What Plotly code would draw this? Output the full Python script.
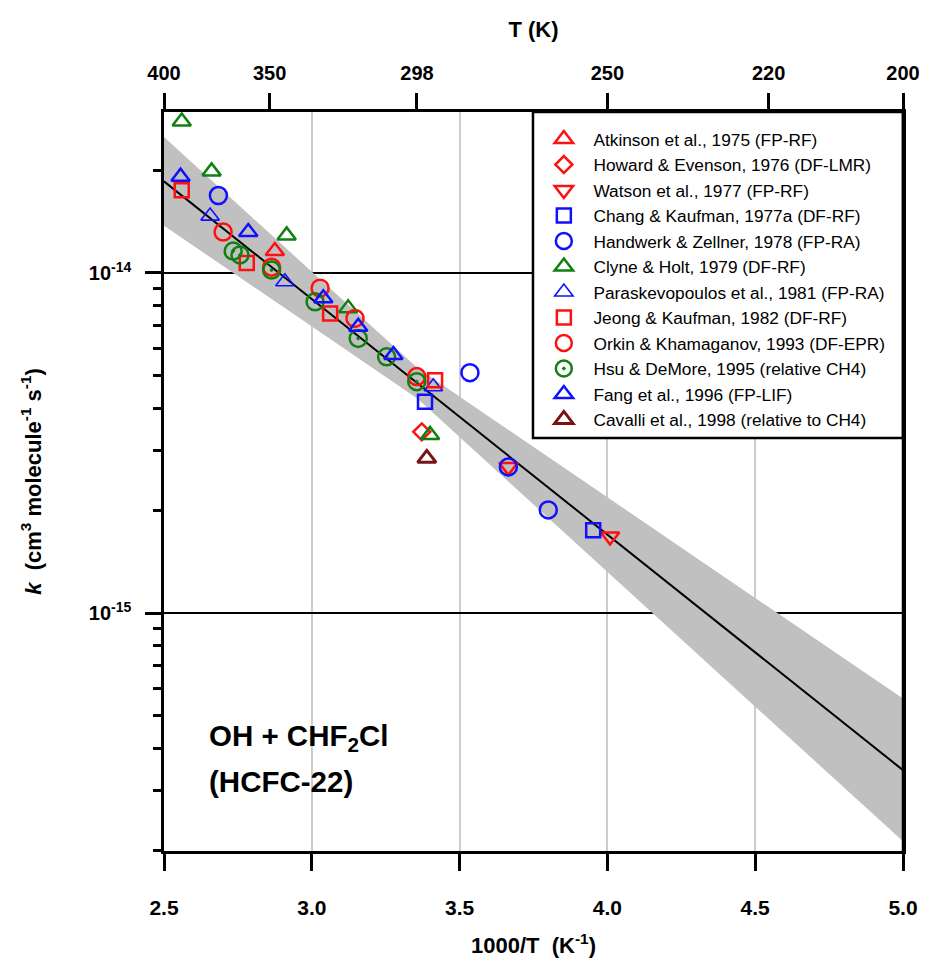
import plotly.graph_objects as go

# ---------------- data ----------------
# x = 1000/T (K^-1), k in cm^3 molecule^-1 s^-1
atkinson_x = [2.875]
atkinson_k = [1.16e-14]

howard_x = [3.372]
howard_k = [3.41e-15]

watson_x = [3.665, 4.009]
watson_k = [2.69e-15, 1.68e-15]

chang_x = [3.383, 3.952]
chang_k = [4.18e-15, 1.75e-15]

handwerk_x = [2.684, 3.535, 3.665, 3.800]
handwerk_k = [1.69e-14, 5.09e-15, 2.69e-15, 2.01e-15]

clyne_x = [2.560, 2.661, 2.915, 3.123, 3.400]
clyne_k = [2.79e-14, 1.99e-14, 1.29e-14, 7.87e-15, 3.34e-15]

parask_x = [2.656, 2.909, 3.411]
parask_k = [1.47e-14, 9.42e-15, 4.63e-15]

jeong_x = [2.560, 2.780, 3.062, 3.417]
jeong_k = [1.75e-14, 1.07e-14, 7.60e-15, 4.84e-15]

orkin_x = [2.700, 2.864, 3.028, 3.146, 3.355]
orkin_k = [1.32e-14, 1.04e-14, 9.02e-15, 7.35e-15, 4.96e-15]

hsu_x = [2.734, 2.757, 2.864, 3.011, 3.157, 3.253, 3.355]
hsu_k = [1.16e-14, 1.13e-14, 1.02e-14, 8.23e-15, 6.42e-15, 5.67e-15, 4.79e-15]

fang_x = [2.556, 2.785, 3.039, 3.157, 3.276]
fang_k = [1.92e-14, 1.32e-14, 8.43e-15, 6.95e-15, 5.74e-15]

cavalli_x = [3.389]
cavalli_k = [2.85e-15]

# recommended fit line and its uncertainty band
fit_x = [2.5, 5.0]
fit_k = [1.86e-14, 3.45e-16]
band_x = [2.5, 3.356, 5.0]
band_upper = [2.51e-14, 5.27e-15, 5.60e-16]
band_lower = [1.378e-14, 4.28e-15, 2.13e-16]

# axis ticks
top_T = [400, 350, 298, 250, 220, 200]
top_labels = ["400", "350", "298", "250", "220", "200"]
bottom_ticks = [2.5, 3.0, 3.5, 4.0, 4.5, 5.0]
bottom_labels = ["2.5", "3.0", "3.5", "4.0", "4.5", "5.0"]
y_ticks = [1e-15, 1e-14]
y_labels = ["10<sup>-15</sup>", "10<sup>-14</sup>"]
y_minor = [m * 10.0 ** e for e in (-16, -15, -14) for m in range(2, 10)]

FONT = "Liberation Sans, Arial, sans-serif"
RED = "#ff1010"
BLUE = "#1010ff"
GREEN = "#108010"
BROWN = "#7a1414"

fig = go.Figure()

# uncertainty band
fig.add_trace(go.Scatter(x=band_x, y=band_lower, mode="lines", line=dict(width=0),
                         showlegend=False, hoverinfo="skip"))
fig.add_trace(go.Scatter(x=band_x, y=band_upper, mode="lines", line=dict(width=0),
                         fill="tonexty", fillcolor="rgb(192,192,192)",
                         showlegend=False, hoverinfo="skip"))
# fit line
fig.add_trace(go.Scatter(x=fit_x, y=fit_k, mode="lines", line=dict(color="black", width=2),
                         showlegend=False, hoverinfo="skip"))

series = [
    ("Atkinson et al., 1975 (FP-RF)", atkinson_x, atkinson_k, "triangle-up-open", RED, 16, 2.5),
    ("Howard & Evenson, 1976 (DF-LMR)", howard_x, howard_k, "diamond-open", RED, 13, 2.5),
    ("Watson et al., 1977 (FP-RF)", watson_x, watson_k, "triangle-down-open", RED, 16, 2.5),
    ("Chang & Kaufman, 1977a (DF-RF)", chang_x, chang_k, "square-open", BLUE, 14, 2.5),
    ("Handwerk & Zellner, 1978 (FP-RA)", handwerk_x, handwerk_k, "circle-open", BLUE, 17, 2.5),
    ("Clyne & Holt, 1979 (DF-RF)", clyne_x, clyne_k, "triangle-up-open", GREEN, 16, 2.5),
    ("Paraskevopoulos et al., 1981 (FP-RA)", parask_x, parask_k, "triangle-up-open", BLUE, 16, 1.6),
    ("Jeong & Kaufman, 1982 (DF-RF)", jeong_x, jeong_k, "square-open", RED, 14, 2.5),
    ("Orkin & Khamaganov, 1993 (DF-EPR)", orkin_x, orkin_k, "circle-open", RED, 17, 2.5),
    ("Hsu & DeMore, 1995 (relative CH4)", hsu_x, hsu_k, "circle-open-dot", GREEN, 17, 2.5),
    ("Fang et al., 1996 (FP-LIF)", fang_x, fang_k, "triangle-up-open", BLUE, 16, 2.5),
    ("Cavalli et al., 1998 (relative to CH4)", cavalli_x, cavalli_k, "triangle-up-open", BROWN, 16, 3),
]

for i, (name, xs, ks, sym, col, size, lw) in enumerate(series):
    fig.add_trace(go.Scatter(
        x=xs, y=ks, mode="markers", name="\u00a0\u00a0" + name,
        legendgroup=f"g{i}",
        marker=dict(symbol=sym, color=col, size=size, line=dict(color=col, width=lw)),
    ))

# helper trace so the top axis is drawn
fig.add_trace(go.Scatter(x=[2.5, 5.0], y=[1e-14, 1e-14], xaxis="x2", mode="markers",
                         marker=dict(opacity=0), showlegend=False, hoverinfo="skip"))

fig.update_layout(
    width=930, height=964,
    margin=dict(l=156, r=35, t=104, b=121),
    paper_bgcolor="white", plot_bgcolor="white",
    font=dict(family=FONT, color="black"),
    xaxis=dict(
        range=[2.5, 5.0], tickvals=bottom_ticks, ticktext=[f"<b>{t}</b>" for t in bottom_labels],
        ticks="outside", ticklen=17, tickwidth=2.5, tickcolor="black",
        tickfont=dict(size=21), ticklabelstandoff=19,
        showline=True, linecolor="black", linewidth=2.5, zeroline=False, mirror=False,
        showgrid=True, gridcolor="rgb(205,205,205)", gridwidth=1.5,
        title=dict(text="<b>1000/T  (K<sup>-1</sup>)</b>", font=dict(size=22), standoff=20),
    ),
    xaxis2=dict(
        overlaying="x", side="top", range=[2.5, 5.0], anchor="y",
        tickvals=[1000.0 / t for t in top_T], ticktext=[f"<b>{t}</b>" for t in top_labels],
        ticks="outside", ticklen=16, tickwidth=2.5, tickcolor="black",
        tickfont=dict(size=20), showgrid=False, ticklabelstandoff=5,
        showline=True, linecolor="black", linewidth=2.5, zeroline=False,
        title=dict(text="<b>T (K)</b>", font=dict(size=22), standoff=19),
    ),
    yaxis=dict(
        type="log", range=[-15.7, -13.5265],
        tickvals=y_ticks, ticktext=[f"<b>{t}</b>" for t in y_labels],
        ticks="outside", ticklen=16, tickwidth=2.5, tickcolor="black",
        tickfont=dict(size=20), ticklabelstandoff=10,
        showline=True, linecolor="black", linewidth=2.5, zeroline=False, mirror=True,
        showgrid=True, gridcolor="black", gridwidth=1.5,
        minor=dict(tickvals=y_minor, ticks="outside", ticklen=8, tickwidth=2.5,
                   tickcolor="black", showgrid=False),
        title=dict(text="<b><i>k</i>  (cm<sup>3</sup> molecule<sup>-1</sup> s<sup>-1</sup>)</b>",
                   font=dict(size=22), standoff=42),
    ),
    legend=dict(
        x=0.514, y=0.9874, xanchor="left", yanchor="top",
        bgcolor="rgba(0,0,0,0)", borderwidth=0,
        font=dict(size=17.3, family=FONT), tracegroupgap=0, indentation=0,
        itemclick=False, itemdoubleclick=False,
    ),
    showlegend=True,
    annotations=[
        dict(xref="paper", yref="paper", x=0.058, y=0.154, xanchor="left", yanchor="middle",
             showarrow=False, align="left",
             text="<b>OH + CHF<sub>2</sub>Cl</b>", font=dict(size=29.5, family=FONT)),
        dict(xref="paper", yref="paper", x=0.058, y=0.0947, xanchor="left", yanchor="middle",
             showarrow=False, align="left",
             text="<b>(HCFC-22)</b>", font=dict(size=29.5, family=FONT)),
    ],
    shapes=[
        # legend frame
        dict(type="rect", xref="paper", yref="paper", x0=0.4993, x1=1.0, y0=0.5589, y1=1.0,
             fillcolor="white", line=dict(color="black", width=2.5), layer="above"),
        # right border
        dict(type="line", xref="paper", yref="paper", x0=1, x1=1, y0=0, y1=1,
             line=dict(color="black", width=2.5)),
    ],
)

fig.write_html("out.html")
